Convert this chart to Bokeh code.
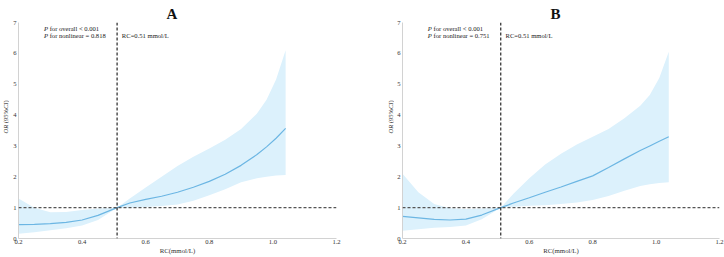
import math
from bokeh.plotting import figure
from bokeh.layouts import row
from bokeh.models import Label, Span, Range1d, FixedTicker, NumeralTickFormatter
from bokeh.embed import file_html
from bokeh.resources import INLINE

# ---------------- data ----------------
rc_x = [0.20, 0.25, 0.30, 0.35, 0.40, 0.45, 0.51, 0.55, 0.60, 0.65,
        0.70, 0.75, 0.80, 0.85, 0.90, 0.95, 0.98, 1.01, 1.04]

or_a = [0.45, 0.46, 0.48, 0.52, 0.60, 0.75, 1.00, 1.15, 1.27, 1.37,
        1.50, 1.66, 1.85, 2.08, 2.37, 2.72, 2.97, 3.25, 3.57]
lo_a = [0.15, 0.20, 0.27, 0.33, 0.42, 0.60, 1.00, 1.00, 1.02, 1.05,
        1.10, 1.22, 1.40, 1.60, 1.82, 1.95, 2.00, 2.04, 2.06]
hi_a = [1.30, 1.00, 0.85, 0.86, 0.92, 0.97, 1.00, 1.30, 1.65, 2.00,
        2.35, 2.65, 2.92, 3.20, 3.55, 4.05, 4.50, 5.15, 6.10]

or_b = [0.72, 0.67, 0.62, 0.60, 0.63, 0.76, 1.00, 1.15, 1.32, 1.50,
        1.67, 1.85, 2.03, 2.30, 2.58, 2.85, 3.00, 3.15, 3.30]
lo_b = [0.25, 0.30, 0.35, 0.37, 0.42, 0.62, 1.00, 1.03, 1.06, 1.08,
        1.12, 1.17, 1.25, 1.38, 1.55, 1.70, 1.76, 1.80, 1.82]
hi_b = [2.10, 1.50, 1.12, 0.98, 0.96, 0.97, 1.00, 1.45, 1.95, 2.40,
        2.75, 3.05, 3.30, 3.55, 3.90, 4.30, 4.65, 5.20, 6.05]

x_ticks = [0.2, 0.4, 0.6, 0.8, 1.0, 1.2]
y_ticks = [0, 1, 2, 3, 4, 5, 6, 7]
rc_cut = 0.51
or_ref = 1.0
panel_letters = ["A", "B"]
p_overall = ["< 0.001", "< 0.001"]
p_nonlinear = ["= 0.818", "= 0.751"]
cut_label = "RC=0.51 mmol/L"
y_label_parts = [("OR", "italic"), ("(95%", "normal"), ("CI", "italic"), (")", "normal")]

SERIF = "Liberation Serif"
FS = "6.6px"


def ylabel_fig(width, cx):
    q = figure(width=width, height=257, x_range=Range1d(0, 1), y_range=Range1d(0, 1),
               output_backend="svg", toolbar_location=None, min_border=0)
    q.axis.visible = False
    q.grid.visible = False
    q.outline_line_color = None
    offs = [0.0, 10.3, 24.4, 30.9]
    for (txt, style), off in zip(y_label_parts, offs):
        q.add_layout(Label(x=cx, y=105 + off, x_units="screen", y_units="screen",
                           text=txt, angle=math.pi / 2, text_font=SERIF,
                           text_font_style=style, text_font_size="6.5px",
                           text_align="left", text_baseline="middle",
                           text_color="#333333"))
    return q


def panel(letter, mid, lo, hi, p_ov, p_nl, width, left, right, top, bottom):
    p = figure(width=width, height=257, x_range=Range1d(0.2, 1.2), y_range=Range1d(0, 7),
               output_backend="svg", toolbar_location=None,
               min_border_left=left, min_border_right=right,
               min_border_top=top, min_border_bottom=bottom,
               title=letter)
    p.title.text_font = SERIF
    p.title.text_font_style = "bold"
    p.title.text_font_size = "15px"
    p.title.align = "left"
    p.title.offset = 148
    p.title.standoff = 2
    p.title.text_color = "#111111"
    p.grid.visible = False
    p.outline_line_color = None
    p.background_fill_color = "white"

    p.varea(x=rc_x, y1=lo, y2=hi, fill_color="#dcf1fc", fill_alpha=1.0)
    p.line(rc_x, mid, line_color="#6cb6e3", line_width=1.2)

    p.add_layout(Span(location=or_ref, dimension="width", line_color="#555555",
                      line_dash="3 2", line_width=1.1))
    p.add_layout(Span(location=rc_cut, dimension="height", line_color="#111111",
                      line_dash="3 2", line_width=1.1))

    for ax in (p.xaxis[0], p.yaxis[0]):
        ax.axis_line_color = "#d2d2d2"
        ax.major_tick_line_color = None
        ax.major_tick_out = 0
        ax.major_tick_in = 0
        ax.minor_tick_line_color = None
        ax.major_label_text_font = SERIF
        ax.major_label_text_font_size = FS
        ax.major_label_text_color = "#333333"
        ax.major_label_standoff = 2
    p.xaxis.major_label_standoff = 1
    p.xaxis.ticker = FixedTicker(ticks=x_ticks)
    p.xaxis.formatter = NumeralTickFormatter(format="0.0")
    p.yaxis.ticker = FixedTicker(ticks=y_ticks)
    p.xaxis.axis_label = "RC(mmol/L)"
    p.xaxis.axis_label_text_font = SERIF
    p.xaxis.axis_label_text_font_style = "normal"
    p.xaxis.axis_label_text_font_size = "6.8px"
    p.xaxis.axis_label_text_color = "#333333"
    p.xaxis.axis_label_standoff = 0

    # P-value annotations
    for yy, rest in ((6.8, "for overall " + p_ov), (6.57, "for nonlinear " + p_nl)):
        p.add_layout(Label(x=0.28, y=yy, text="P", text_font=SERIF, text_font_style="italic",
                           text_font_size=FS, text_baseline="middle", text_color="#222222"))
        p.add_layout(Label(x=0.28, y=yy, x_offset=5.7, text=rest, text_font=SERIF,
                           text_font_size=FS, text_baseline="middle", text_color="#222222"))
    p.add_layout(Label(x=0.525, y=6.57, text=cut_label, text_font=SERIF,
                       text_font_size=FS, text_baseline="middle", text_color="#222222"))
    return p


la = ylabel_fig(9, 5)
pa = panel("A", or_a, lo_a, hi_a, p_overall[0], p_nonlinear[0], 353, 9, 26, 22, 18)
lb = ylabel_fig(32, 28)
pb = panel("B", or_b, lo_b, hi_b, p_overall[1], p_nonlinear[1], 330, 6, 5, 21, 19)

layout = row(la, pa, lb, pb)
open("out.html", "w").write(file_html(layout, INLINE))
